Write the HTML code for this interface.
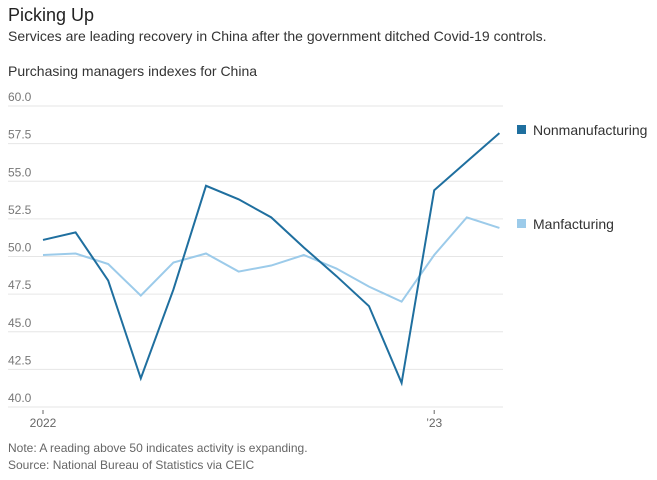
<!DOCTYPE html>
<html><head><meta charset="utf-8"><style>
body{margin:0;background:#fff;font-family:"Liberation Sans",sans-serif;}
#wrap{position:relative;width:657px;height:480px;overflow:hidden;}
.t{position:absolute;white-space:nowrap;}
</style></head><body>
<div id="wrap">
<div class="t" style="left:8px;top:5px;font-size:18px;color:#222;">Picking Up</div>
<div class="t" style="left:8px;top:28px;font-size:14px;color:#333;">Services are leading recovery in China after the government ditched Covid-19 controls.</div>
<div class="t" style="left:8px;top:63px;font-size:14px;color:#333;">Purchasing managers indexes for China</div>
<svg id="chart" width="657" height="480" style="position:absolute;left:0;top:0"></svg>
<div class="t" style="left:8px;top:441px;font-size:12px;color:#666;">Note: A reading above 50 indicates activity is expanding.</div>
<div class="t" style="left:8px;top:458px;font-size:12px;color:#666;">Source: National Bureau of Statistics via CEIC</div>
</div>
<script>
const months=["Jan22","Feb22","Mar22","Apr22","May22","Jun22","Jul22","Aug22","Sep22","Oct22","Nov22","Dec22","Jan23","Feb23","Mar23"];
const nonmanufacturing=[51.1,51.6,48.4,41.9,47.8,54.7,53.8,52.6,50.6,48.7,46.7,41.6,54.4,56.3,58.2];
const manufacturing=[50.1,50.2,49.5,47.4,49.6,50.2,49.0,49.4,50.1,49.2,48.0,47.0,50.1,52.6,51.9];
const yTicks=[40,42.5,45,47.5,50,52.5,55,57.5,60];
const xTickLabels=[{i:0,t:"2022"},{i:12,t:"’23"}];
const NS="http://www.w3.org/2000/svg";
const svg=document.getElementById("chart");
const x=i=>43+i*32.6;
const y=v=>407-(v-40)*(301/20);
function mk(tag,attrs){const e=document.createElementNS(NS,tag);for(const k in attrs)e.setAttribute(k,attrs[k]);svg.appendChild(e);return e;}
yTicks.forEach(v=>{
 const g=mk("line",{x1:8,x2:503,y1:y(v),y2:y(v),stroke:"#e6e6e6","stroke-width":1});
 
 
 const t=mk("text",{x:8,y:y(v)-5,"font-size":12,fill:"#777","font-family":"Liberation Sans, sans-serif"});
 t.textContent=v.toFixed(1);
 
 
});
xTickLabels.forEach(o=>{
 const tk=mk("line",{x1:x(o.i),x2:x(o.i),y1:410,y2:414,stroke:"#666","stroke-width":1});
 
 
 const t=mk("text",{x:x(o.i),y:427,"font-size":12,fill:"#666","text-anchor":"middle","font-family":"Liberation Sans, sans-serif"});
 t.textContent=o.t;
 
 
});
function line(arr,color,name){
 const p=mk("polyline",{points:arr.map((v,i)=>x(i)+","+y(v)).join(" "),fill:"none",stroke:color,"stroke-width":2,"stroke-linejoin":"miter"});
 
 
}
line(manufacturing,"#9ccbea","manufacturing-line");
line(nonmanufacturing,"#1f6f9f","nonmanufacturing-line");
function legend(ly,color,label,name){
 const r=mk("rect",{x:517,y:ly-5,width:9,height:9,fill:color});
 
 
 const t=mk("text",{x:533,y:ly+5,"font-size":14,fill:"#333","font-family":"Liberation Sans, sans-serif"});
 t.textContent=label;
 
 
}
legend(130,"#1f6f9f","Nonmanufacturing","legend-nonmanufacturing");
legend(224,"#9ccbea","Manfacturing","legend-manufacturing");
</script>
</body></html>
